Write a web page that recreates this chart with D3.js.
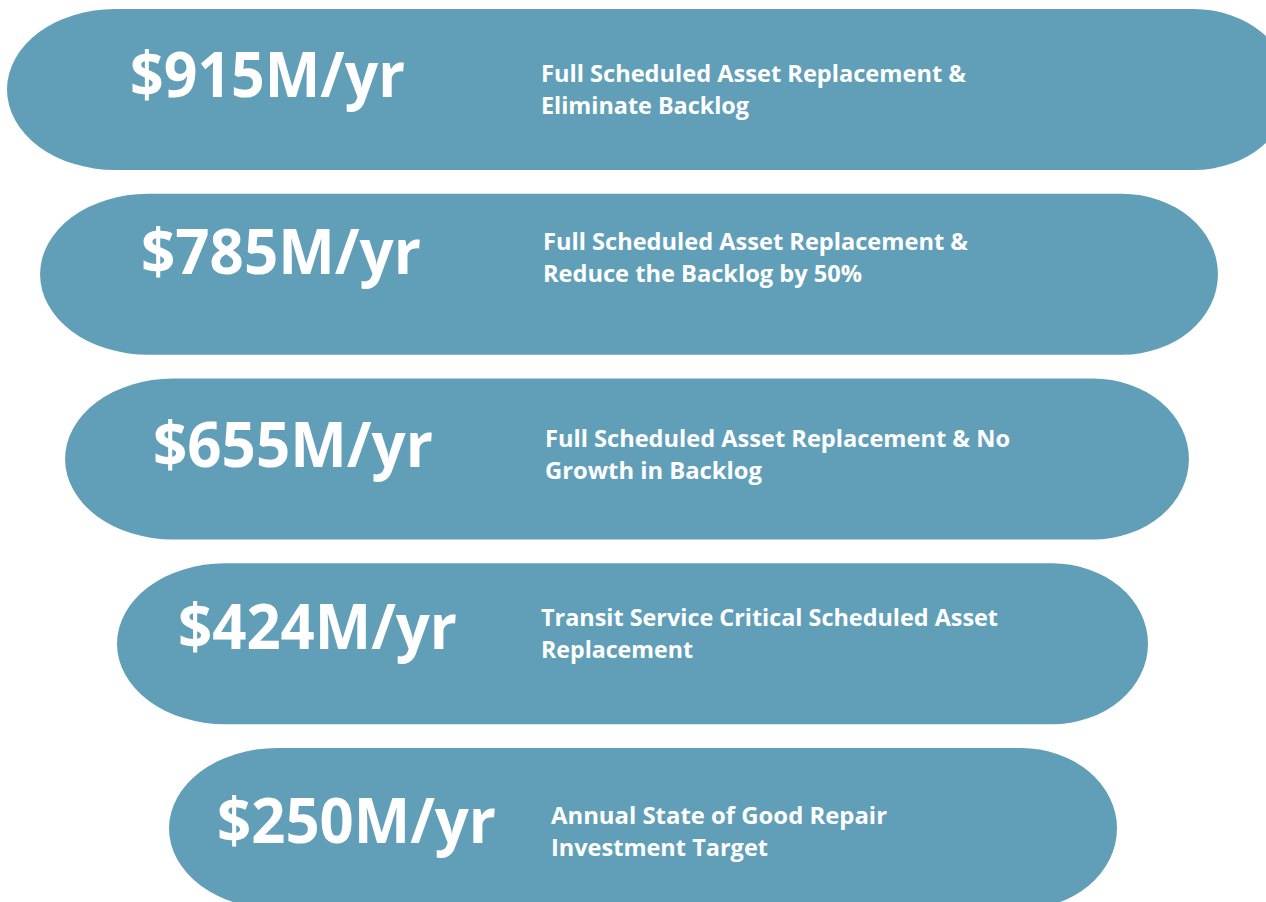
<!DOCTYPE html>
<html>
<head>
<meta charset="utf-8">
<script src="https://cdn.jsdelivr.net/npm/d3@7"></script>
<style>
  body { margin: 0; background: #ffffff; }
  svg { display: block; }
</style>
</head>
<body>
<svg id="chart"></svg>
<script>
// Data
const amounts = [915, 785, 655, 424, 250];
const descLine1 = [
    "Full Scheduled Asset Replacement &",
    "Full Scheduled Asset Replacement &",
    "Full Scheduled Asset Replacement & No",
    "Transit Service Critical Scheduled Asset",
    "Annual State of Good Repair"
];
const descLine2 = [
    "Eliminate Backlog",
    "Reduce the Backlog by 50%",
    "Growth in Backlog",
    "Replacement",
    "Investment Target"
];

// Layout of each pill (left/right edges, text positions) - not data
const pillLeft  = [7, 40, 65, 117, 169];
const pillRight = [1290, 1218, 1189, 1148, 1117];
const valueX    = [130, 141, 153, 178, 217];
const valueDy   = [8, 0, 8, 5, 14];       // baseline offset from pill middle
const descX     = [541, 543, 545, 541, 551];
const descDy    = [-7, -24, -12, -18, -5]; // first-line baseline offset from pill middle
const valueW    = [275, 280, 280, 279, 279];
const line1W    = [425, 425, 465, 457, 336];
const line2W    = [208, 319, 217, 152, 217];

const width = 1266;
const height = 902;
const fill = "#619fb9";

const svg = d3.select("#chart")
    .attr("width", width)
    .attr("height", height);

const rows = d3.range(amounts.length);

// One band per pill
const y = d3.scaleBand()
    .domain(rows)
    .range([9, 909])
    .paddingInner(0.1286)
    .paddingOuter(0);

const x = d3.scaleLinear().domain([0, width]).range([0, width]);

const ry = y.bandwidth() / 2;

function pillPath(i) {
    const l = x(pillLeft[i]), r = x(pillRight[i]);
    const t = y(i), b = y(i) + y.bandwidth();
    const rxL = 108, rxR = 96;
    return `M${l + rxL},${t} H${r - rxR} A${rxR},${ry} 0 0 1 ${r - rxR},${b}` +
           ` H${l + rxL} A${rxL},${ry} 0 0 1 ${l + rxL},${t} Z`;
}

const groups = svg.selectAll("g.pill")
    .data(rows)
    .enter()
    .append("g")
    .attr("class", "pill");

groups.append("path")
    .attr("d", i => pillPath(i))
    .attr("fill", fill);

// Big amount
groups.append("text")
    .attr("x", i => x(valueX[i]))
    .attr("y", i => y(i) + ry + valueDy[i])
    .attr("fill", "#ffffff")
    .style("font-family", "'Open Sans', 'DejaVu Sans', sans-serif")
    .style("font-weight", "bold")
    .style("font-size", "62px")
    .attr("textLength", i => valueW[i])
    .attr("lengthAdjust", "spacingAndGlyphs")
    .text(i => `$${amounts[i]}M/yr`);

// Description, two lines
groups.append("text")
    .attr("x", i => x(descX[i]))
    .attr("y", i => y(i) + ry + descDy[i])
    .attr("fill", "#ffffff")
    .style("font-family", "'Open Sans', 'DejaVu Sans', sans-serif")
    .style("font-weight", "bold")
    .style("font-size", "23px")
    .attr("textLength", i => line1W[i])
    .attr("lengthAdjust", "spacingAndGlyphs")
    .text(i => descLine1[i]);

groups.append("text")
    .attr("x", i => x(descX[i]))
    .attr("y", i => y(i) + ry + descDy[i] + 32)
    .attr("fill", "#ffffff")
    .style("font-family", "'Open Sans', 'DejaVu Sans', sans-serif")
    .style("font-weight", "bold")
    .style("font-size", "23px")
    .attr("textLength", i => line2W[i])
    .attr("lengthAdjust", "spacingAndGlyphs")
    .text(i => descLine2[i]);
</script>
</body>
</html>
